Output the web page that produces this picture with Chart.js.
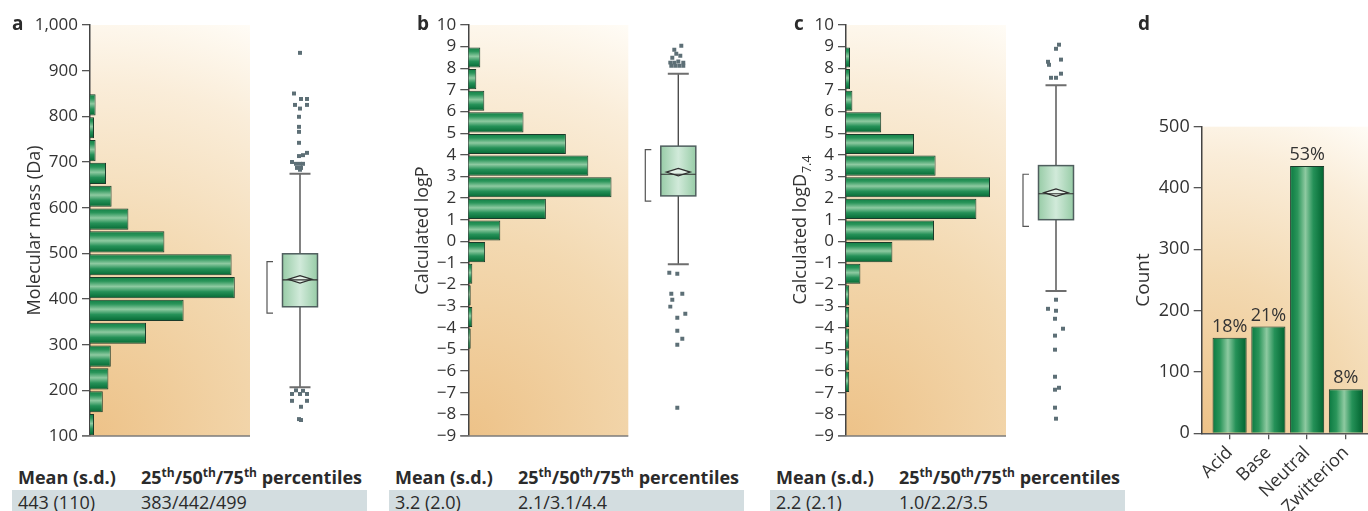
<!DOCTYPE html>
<html>
<head>
<meta charset="utf-8">
<script src="https://cdn.jsdelivr.net/npm/chart.js@4.4.1/dist/chart.umd.min.js"></script>
<style>
  body { margin: 0; width: 1368px; height: 511px; overflow: hidden; background: #fff;
         font-family: "Open Sans", sans-serif; color: #2b2b2b; position: relative; }
  canvas { position: absolute; top: 0; }
  .letter { position: absolute; top: 12px; font-weight: bold; font-size: 19px; line-height: 22px; }
  .stats { position: absolute; top: 466px; border-collapse: collapse; font-size: 18px; }
  .stats th { font-weight: bold; text-align: left; padding: 0 5px 2px 6px; height: 22px; line-height: 22px; white-space: nowrap; }
  .stats td { background: #d3dde0; padding: 0 5px 0 6px; height: 24px; line-height: 24px; white-space: nowrap; }
  .stats th:first-child, .stats td:first-child { width: 112px; }
  .stats sup { font-size: 12px; vertical-align: 7px; line-height: 0; }
</style>
</head>
<body>
<canvas id="chartA" width="345" height="460" style="left:0px"></canvas>
<canvas id="chartB" width="345" height="460" style="left:380px"></canvas>
<canvas id="chartC" width="345" height="460" style="left:760px"></canvas>
<canvas id="chartD" width="238" height="511" style="left:1130px"></canvas>

<div class="letter" style="left:12px">a</div>
<div class="letter" style="left:417px">b</div>
<div class="letter" style="left:794px">c</div>
<div class="letter" style="left:1138px">d</div>

<table class="stats" style="left:12px">
  <tr><th>Mean (s.d.)</th><th>25<sup>th</sup>/50<sup>th</sup>/75<sup>th</sup> percentiles</th></tr>
  <tr><td>443 (110)</td><td>383/442/499</td></tr>
</table>
<table class="stats" style="left:389px">
  <tr><th>Mean (s.d.)</th><th>25<sup>th</sup>/50<sup>th</sup>/75<sup>th</sup> percentiles</th></tr>
  <tr><td>3.2 (2.0)</td><td>2.1/3.1/4.4</td></tr>
</table>
<table class="stats" style="left:770px">
  <tr><th>Mean (s.d.)</th><th>25<sup>th</sup>/50<sup>th</sup>/75<sup>th</sup> percentiles</th></tr>
  <tr><td>2.2 (2.1)</td><td>1.0/2.2/3.5</td></tr>
</table>

<script>
// histogram bins (lower edge) and counts
const massBins = [100, 150, 200, 250, 300, 350, 400, 450, 500, 550, 600, 650, 700, 750, 800];
const massCounts = [5, 16, 23, 26, 70, 117, 181, 177, 93, 48, 27, 20, 7, 5, 7];
const logPBins = [-5, -4, -3, -2, -1, 0, 1, 2, 3, 4, 5, 6, 7, 8];
const logPCounts = [3, 5, 3, 5, 21, 40, 97, 179, 150, 122, 69, 20, 10, 15];
const logDBins = [-7, -6, -5, -4, -3, -2, -1, 0, 1, 2, 3, 4, 5, 6, 7, 8];
const logDCounts = [4, 4, 4, 4, 4, 18, 58, 110, 163, 180, 112, 85, 44, 8, 5, 5];

// box plots: low whisker, q1, median, q3, high whisker
const massBox = [207, 383, 442, 499, 674];
const logPBox = [-1.06, 2.1, 3.1, 4.4, 7.75];
const logDBox = [-2.3, 1.0, 2.2, 3.5, 7.21];
// mean diamond: mean, low, high
const massMean = [443, 435, 451];
const logPMean = [3.2, 3.03, 3.37];
const logDMean = [2.25, 2.08, 2.42];
// bracket left of box
const massBracket = [369, 482];
const logPBracket = [1.86, 4.24];
const logDBracket = [0.69, 3.1];

// outliers and their sideways jitter
const massOutliers = [939, 850, 838, 838, 825, 825, 817, 799, 777, 766, 742, 720, 715, 713, 700, 696, 696, 696, 687, 687, 683, 200, 199, 192, 192, 192, 177, 177, 164, 137, 135];
const massJitter = [0, -6, 1, 7, -5, 7, 0, -1, -1, -1, -1, 7, 3, -1, -8, -4, 0, 3, -3, 1, 0, -4, 3, -8, 0, 7, -8, 7, 1, -1, 1];
const logPOutliers = [9.04, 8.86, 8.67, 8.58, 8.49, 8.31, 8.26, 8.26, 8.26, 8.12, 8.12, 8.12, 8.12, -1.45, -1.5, -2.42, -2.42, -2.7, -3.02, -3.35, -3.53, -4.13, -4.5, -4.78, -7.69];
const logPJitter = [3, -4, -2, 2, -6, 0, -8, -4, 5, -7, -3, 1, 5, -9, -1, -7, 4, -6, -8, 7, -1, -1, 4, -1, -1];
const logDOutliers = [9.09, 8.9, 8.4, 8.3, 8.16, 7.75, 7.56, 7.56, -2.7, -3.12, -3.21, -3.58, -4.04, -4.36, -5.01, -6.26, -6.77, -6.86, -7.69, -8.2];
const logDJitter = [3, 0, 5, -8, -7, 5, -5, 0, 0, -8, 0, -1, 7, -1, -1, -1, 3, -1, -1, 0];

// panel d
const ionTypes = ["Acid", "Base", "Neutral", "Zwitterion"];
const ionCounts = [156, 174, 436, 72];
const ionPercent = ["18%", "21%", "53%", "8%"];

const FONT = '"Open Sans", sans-serif';
Chart.defaults.font.family = FONT;
Chart.defaults.color = "#333";

const minus = (v) => (v < 0 ? "\u2212" + Math.abs(v) : String(v));

function paperGradient(ctx, left, top, right, bottom) {
  const g = ctx.createRadialGradient(left, bottom, 0, left, bottom, Math.hypot(right - left, bottom - top));
  g.addColorStop(0, "#edc288");
  g.addColorStop(0.45, "#f3d9b1");
  g.addColorStop(0.8, "#faedd9");
  g.addColorStop(1, "#fffcf6");
  return g;
}

function greenStops(g) {
  g.addColorStop(0, "#0b7a41");
  g.addColorStop(0.22, "#2a955a");
  g.addColorStop(0.45, "#8ecaa1");
  g.addColorStop(0.68, "#259158");
  g.addColorStop(1, "#00632f");
  return g;
}

const histDecor = {
  id: "histDecor",
  beforeDraw(chart, args, o) {
    const { ctx, chartArea: ca, scales } = chart;
    const right = scales.x.getPixelForValue(o.histMax);
    ctx.save();
    ctx.fillStyle = paperGradient(ctx, ca.left, ca.top, right, ca.bottom);
    ctx.fillRect(ca.left, ca.top, right - ca.left, ca.bottom - ca.top);
    ctx.restore();
  },
  afterDatasetsDraw(chart, args, o) {
    const { ctx, chartArea: ca, scales } = chart;
    const y = scales.y, xb = scales.xb;
    const right = scales.x.getPixelForValue(o.histMax);
    ctx.save();
    // base line
    ctx.strokeStyle = "#7b7b7b";
    ctx.lineWidth = 1.5;
    ctx.beginPath();
    ctx.moveTo(ca.left - 8, ca.bottom);
    ctx.lineTo(right, ca.bottom);
    ctx.stroke();

    const [lo, q1, med, q3, hi] = o.box;
    const cx = xb.getPixelForValue(0);
    const bw = xb.getPixelForValue(17.5) - cx;
    const cap = xb.getPixelForValue(10.5) - cx;
    const dw = xb.getPixelForValue(12) - cx;
    // whiskers
    ctx.strokeStyle = "#4d4d4d";
    ctx.lineWidth = 1.4;
    ctx.beginPath();
    ctx.moveTo(cx, y.getPixelForValue(hi));
    ctx.lineTo(cx, y.getPixelForValue(q3));
    ctx.moveTo(cx, y.getPixelForValue(q1));
    ctx.lineTo(cx, y.getPixelForValue(lo));
    ctx.stroke();
    ctx.strokeStyle = "#6e6e6e";
    ctx.lineWidth = 2;
    ctx.beginPath();
    ctx.moveTo(cx - cap, y.getPixelForValue(hi));
    ctx.lineTo(cx + cap, y.getPixelForValue(hi));
    ctx.moveTo(cx - cap, y.getPixelForValue(lo));
    ctx.lineTo(cx + cap, y.getPixelForValue(lo));
    ctx.stroke();
    // box
    const top = y.getPixelForValue(q3), bot = y.getPixelForValue(q1);
    const g = ctx.createLinearGradient(cx - bw, 0, cx + bw, 0);
    g.addColorStop(0, "#98cca7");
    g.addColorStop(0.5, "#d1eada");
    g.addColorStop(1, "#98cca7");
    ctx.fillStyle = g;
    ctx.fillRect(cx - bw, top, 2 * bw, bot - top);
    ctx.strokeStyle = "#4f5e5e";
    ctx.lineWidth = 1.5;
    ctx.strokeRect(cx - bw, top, 2 * bw, bot - top);
    // diamond + median
    const [mean, mlo, mhi] = o.mean;
    const ym = y.getPixelForValue(mean);
    ctx.strokeStyle = "#2e2e2e";
    ctx.lineWidth = 1.2;
    ctx.beginPath();
    ctx.moveTo(cx - dw, ym);
    ctx.lineTo(cx, y.getPixelForValue(mhi));
    ctx.lineTo(cx + dw, ym);
    ctx.lineTo(cx, y.getPixelForValue(mlo));
    ctx.closePath();
    ctx.fillStyle = "#e3f1e7";
    ctx.fill();
    ctx.stroke();
    ctx.beginPath();
    ctx.moveTo(cx - bw, y.getPixelForValue(med));
    ctx.lineTo(cx + bw, y.getPixelForValue(med));
    ctx.stroke();
    // bracket
    const bx = xb.getPixelForValue(-33), tk = xb.getPixelForValue(-27) - bx;
    const b1 = y.getPixelForValue(o.bracket[0]), b2 = y.getPixelForValue(o.bracket[1]);
    ctx.strokeStyle = "#555";
    ctx.lineWidth = 1.2;
    ctx.beginPath();
    ctx.moveTo(bx + tk, b2);
    ctx.lineTo(bx, b2);
    ctx.lineTo(bx, b1);
    ctx.lineTo(bx + tk, b1);
    ctx.stroke();
    ctx.restore();
  },
  afterDraw(chart, args, o) {
    if (!o.subTitle) return;
    const { ctx, chartArea: ca } = chart;
    const t = o.subTitle;
    ctx.save();
    ctx.translate(t.x, (ca.top + ca.bottom) / 2);
    ctx.rotate(-Math.PI / 2);
    ctx.fillStyle = "#333";
    ctx.textBaseline = "middle";
    ctx.textAlign = "left";
    ctx.font = "18px " + FONT;
    const w1 = ctx.measureText(t.text).width;
    ctx.font = "12.5px " + FONT;
    const w2 = ctx.measureText(t.sub).width;
    const start = -(w1 + w2) / 2;
    ctx.font = "18px " + FONT;
    ctx.fillText(t.text, start, 0);
    ctx.font = "12.5px " + FONT;
    ctx.fillText(t.sub, start + w1 + 1, 6);
    ctx.restore();
  },
};

function histChart(id, p) {
  const half = p.binWidth / 2;
  return new Chart(document.getElementById(id), {
    type: "bar",
    data: {
      datasets: [
        {
          type: "bar",
          data: p.bins.map((b, i) => ({ x: p.counts[i], y: b + half })),
          xAxisID: "x",
          yAxisID: "y",
          backgroundColor: (c) => {
            const y = c.chart.scales.y;
            if (!y || !c.raw) return "#1d8a4e";
            const t = y.getPixelForValue(c.raw.y + half), b = y.getPixelForValue(c.raw.y - half);
            if (!isFinite(t) || !isFinite(b)) return "#1d8a4e";
            return greenStops(c.chart.ctx.createLinearGradient(0, t, 0, b));
          },
          borderColor: "#1b3b2a",
          borderWidth: 1,
          barPercentage: 0.93,
          categoryPercentage: 1,
        },
        {
          type: "scatter",
          data: p.outliers.map((v, i) => ({ x: p.jitter[i], y: v })),
          xAxisID: "xb",
          yAxisID: "y",
          pointStyle: "rect",
          pointRadius: 2.8,
          pointBorderWidth: 0,
          pointBackgroundColor: "#5d6f76",
        },
      ],
    },
    options: {
      indexAxis: "y",
      responsive: false,
      animation: false,
      events: [],
      layout: { padding: { top: 25, bottom: 24, left: 0, right: p.padRight } },
      plugins: {
        legend: { display: false },
        tooltip: { enabled: false },
        histDecor: { histMax: 200, box: p.box, mean: p.mean, bracket: p.bracket, subTitle: p.subTitle || null },
      },
      scales: {
        x: { type: "linear", min: 0, max: 300, display: false },
        xb: { type: "linear", min: -210, max: 30, display: false },
        y: {
          type: "linear",
          min: p.min,
          max: p.max,
          offset: false,
          afterFit: (s) => { s.width = p.axisWidth; },
          ticks: { stepSize: p.step, autoSkip: false, padding: 4, color: "#333", font: { size: 17 }, callback: p.fmt },
          grid: { drawOnChartArea: false, offset: false, tickLength: 8, color: "#555", lineWidth: 1.3 },
          border: { color: "#444", width: 1.5 },
          title: {
            display: !!p.title,
            text: p.title,
            color: "#333",
            font: { size: 18 },
            padding: { top: p.titlePad, bottom: 0 },
          },
        },
      },
    },
    plugins: [histDecor],
  });
}

histChart("chartA", {
  bins: massBins, counts: massCounts, binWidth: 50,
  outliers: massOutliers, jitter: massJitter,
  box: massBox, mean: massMean, bracket: massBracket,
  min: 100, max: 1000, step: 100, fmt: (v) => v.toLocaleString("en-US"),
  axisWidth: 90, padRight: 15, title: "Molecular mass (Da)", titlePad: 24,
});

histChart("chartB", {
  bins: logPBins, counts: logPCounts, binWidth: 1,
  outliers: logPOutliers, jitter: logPJitter,
  box: logPBox, mean: logPMean, bracket: logPBracket,
  min: -9, max: 10, step: 1, fmt: minus,
  axisWidth: 88.3, padRight: 16.7, title: "Calculated logP", titlePad: 32,
});

histChart("chartC", {
  bins: logDBins, counts: logDCounts, binWidth: 1,
  outliers: logDOutliers, jitter: logDJitter,
  box: logDBox, mean: logDMean, bracket: logDBracket,
  min: -9, max: 10, step: 1, fmt: minus,
  axisWidth: 86, padRight: 19, title: "", titlePad: 0,
  subTitle: { x: 41, text: "Calculated logD", sub: "7.4" },
});

// panel d
const dDecor = {
  id: "dDecor",
  beforeDraw(chart) {
    const { ctx, chartArea: ca } = chart;
    ctx.save();
    ctx.fillStyle = paperGradient(ctx, ca.left, ca.top, ca.right, ca.bottom);
    ctx.fillRect(ca.left, ca.top, ca.right - ca.left, ca.bottom - ca.top);
    ctx.restore();
  },
  afterDatasetsDraw(chart) {
    const { ctx } = chart;
    const meta = chart.getDatasetMeta(0);
    ctx.save();
    ctx.fillStyle = "#333";
    ctx.font = "18px " + FONT;
    ctx.textAlign = "center";
    ctx.textBaseline = "bottom";
    meta.data.forEach((bar, i) => {
      ctx.fillText(ionPercent[i], bar.x, bar.y - 2);
    });
    ctx.restore();
  },
};

new Chart(document.getElementById("chartD"), {
  type: "bar",
  data: {
    datasets: [
      {
        data: ionCounts.map((v, i) => ({ x: i, y: v })),
        backgroundColor: (c) => {
          const x = c.chart.scales.x;
          if (!x || !c.raw) return "#1d8a4e";
          const l = x.getPixelForValue(c.raw.x - 0.44), r = x.getPixelForValue(c.raw.x + 0.44);
          if (!isFinite(l) || !isFinite(r)) return "#1d8a4e";
          return greenStops(c.chart.ctx.createLinearGradient(l, 0, r, 0));
        },
        borderColor: "#1b3b2a",
        borderWidth: 1,
        barPercentage: 0.88,
        categoryPercentage: 1,
      },
    ],
  },
  options: {
    responsive: false,
    animation: false,
    events: [],
    layout: { padding: { top: 126.7, left: 0, right: 0, bottom: 0 } },
    plugins: { legend: { display: false }, tooltip: { enabled: false } },
    scales: {
      x: {
        type: "linear",
        min: -0.72,
        max: 3.57,
        offset: false,
        afterBuildTicks: (s) => { s.ticks = ionTypes.map((_, i) => ({ value: i })); },
        afterFit: (s) => { s.height = 77.7; },
        ticks: { autoSkip: false, minRotation: 45, maxRotation: 45, padding: 3, color: "#333", font: { size: 18 }, callback: (v) => ionTypes[v] },
        grid: { drawOnChartArea: false, offset: false, tickLength: 6, color: "#555", lineWidth: 1.3 },
        border: { color: "#555", width: 1.5 },
      },
      y: {
        type: "linear",
        min: 0,
        max: 500,
        afterFit: (s) => { s.width = 71.7; },
        ticks: { stepSize: 100, padding: 4, color: "#333", font: { size: 18 } },
        grid: { drawOnChartArea: false, tickLength: 8, color: "#555", lineWidth: 1.3 },
        border: { color: "#444", width: 1.5 },
        title: { display: true, text: "Count", color: "#333", font: { size: 19 }, padding: { top: 2, bottom: 0 } },
      },
    },
  },
  plugins: [dDecor],
});
</script>
</body>
</html>
